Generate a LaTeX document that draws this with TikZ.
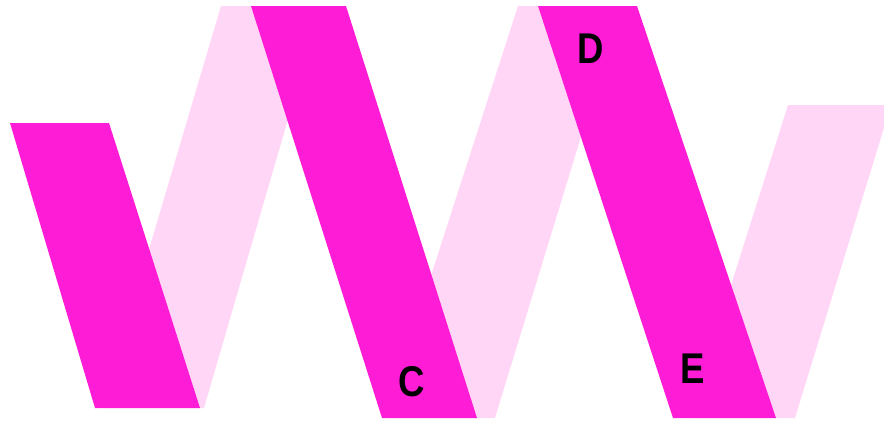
\documentclass[tikz,border=0pt]{standalone}
\usepackage{fontspec}
\setmainfont{Liberation Sans}
\usepackage{xcolor}
\usepackage{tikz}
\definecolor{magentaband}{HTML}{FF1CD6}
\definecolor{pinkband}{HTML}{FFD6F5}
\tikzstyle{backband} = [fill=pinkband, draw=none]
\tikzstyle{frontband} = [fill=magentaband, draw=none]
\tikzstyle{letter} = [text=black, font=\bfseries\fontsize{43}{43}\selectfont, inner sep=0pt, xscale=0.85]

\begin{document}
\begin{tikzpicture}[x=1pt, y=-1pt]
\useasboundingbox (0,0) rectangle (884,421);
\clip (0,0) rectangle (884,421);
% back bands
\fill[backband] (221,6) -- (321,6) -- (204,408) -- (102,408) -- cycle;
\fill[backband] (518,6) -- (621,6) -- (495,418) -- (385,418) -- cycle;
\fill[backband] (788,105) -- (891,105) -- (795,418) -- (689,418) -- cycle;
% front bands
\fill[frontband] (10,123) -- (109,123) -- (200,408) -- (95,408) -- cycle;
\fill[frontband] (251,6) -- (346,6) -- (477,418) -- (382,418) -- cycle;
\fill[frontband] (538,6) -- (637,6) -- (776,418) -- (673,418) -- cycle;

\node[letter] (c) at (412,382) {C};
\node[letter] (d) at (591,49) {D};
\node[letter] (e) at (693,369) {E};
\end{tikzpicture}
\end{document}
